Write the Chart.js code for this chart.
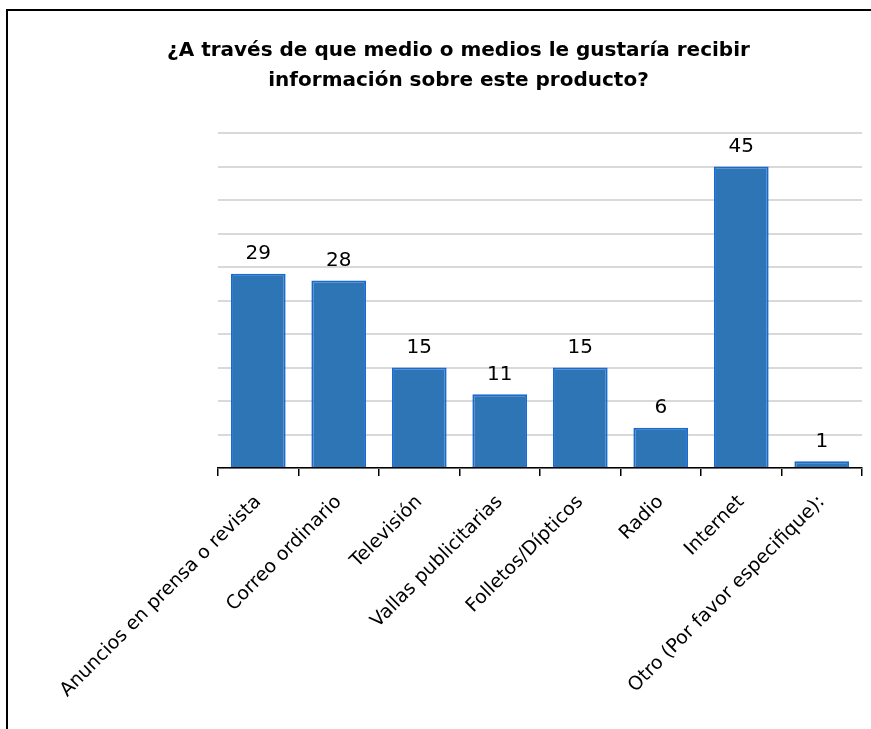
<!DOCTYPE html>
<html>
<head>
<meta charset="utf-8">
<script src="https://cdn.jsdelivr.net/npm/chart.js@4"></script>
<style>
  html, body { margin: 0; padding: 0; background: #fff; }
  #frame {
    position: absolute; left: 6px; top: 9px; width: 900px; height: 800px;
    border-left: 2px solid #000; border-top: 2px solid #000;
  }
  #wrap { position: absolute; left: 0; top: 0; width: 871px; height: 729px; }
</style>
</head>
<body>
<div id="frame"></div>
<div id="wrap"><canvas id="mediaChart"></canvas></div>
<script>
// ¿A través de qué medio...? - respuestas por medio
const categories = [
    "Anuncios en prensa o revista",
    "Correo ordinario",
    "Televisión",
    "Vallas publicitarias",
    "Folletos/Dípticos",
    "Radio",
    "Internet",
    "Otro (Por favor especifique):"
];
const responses = [29, 28, 15, 11, 15, 6, 45, 1];
const titleLines = [
    "¿A través de que medio o medios le gustaría recibir",
    "información sobre este producto?"
];

// numbers above each bar
const barValueLabels = {
    id: "barValueLabels",
    afterDatasetsDraw(chart) {
        const ctx = chart.ctx;
        const meta = chart.getDatasetMeta(0);
        ctx.save();
        ctx.font = "20px 'DejaVu Sans'";
        ctx.fillStyle = "#000";
        ctx.textAlign = "center";
        ctx.textBaseline = "bottom";
        meta.data.forEach((bar, i) => {
            ctx.fillText(responses[i], bar.x, bar.y - 10);
        });
        ctx.restore();
    }
};

const ctx = document.getElementById("mediaChart").getContext("2d");

new Chart(ctx, {
    type: "bar",
    data: {
        labels: categories,
        datasets: [{
            data: responses,
            backgroundColor: "#2e75b6",
            borderColor: "#1a6bd0",
            borderWidth: 2,
            categoryPercentage: 1,
            barPercentage: 0.68
        }]
    },
    options: {
        responsive: true,
        maintainAspectRatio: false,
        animation: false,
        layout: { padding: { left: 46, right: 0, top: 0, bottom: 0 } },
        plugins: {
            legend: { display: false },
            tooltip: { enabled: false },
            title: {
                display: true,
                text: titleLines,
                color: "#000",
                font: { family: "'DejaVu Sans'", size: 20, weight: "bold", lineHeight: 1.5 },
                padding: { top: 36, bottom: 37 }
            }
        },
        scales: {
            x: {
                grid: {
                    display: true,
                    drawOnChartArea: false,
                    drawTicks: true,
                    tickLength: 8,
                    color: "#000",
                    lineWidth: 1.5
                },
                border: { display: true, color: "#000", width: 1.5 },
                ticks: {
                    color: "#000",
                    font: { family: "'DejaVu Sans'", size: 19 },
                    maxRotation: 45,
                    minRotation: 45,
                    autoSkip: false,
                    padding: 15
                },
                afterFit(scale) {
                    scale.height = 261;
                    scale.paddingLeft = 0;
                    scale.paddingRight = 9;
                }
            },
            y: {
                min: 0,
                max: 50,
                ticks: { stepSize: 5, display: false },
                grid: { color: "#d9d9d9", lineWidth: 2, drawTicks: false },
                border: { display: false },
                afterFit(scale) {
                    scale.width = 172;
                }
            }
        }
    },
    plugins: [barValueLabels]
});
</script>
</body>
</html>
